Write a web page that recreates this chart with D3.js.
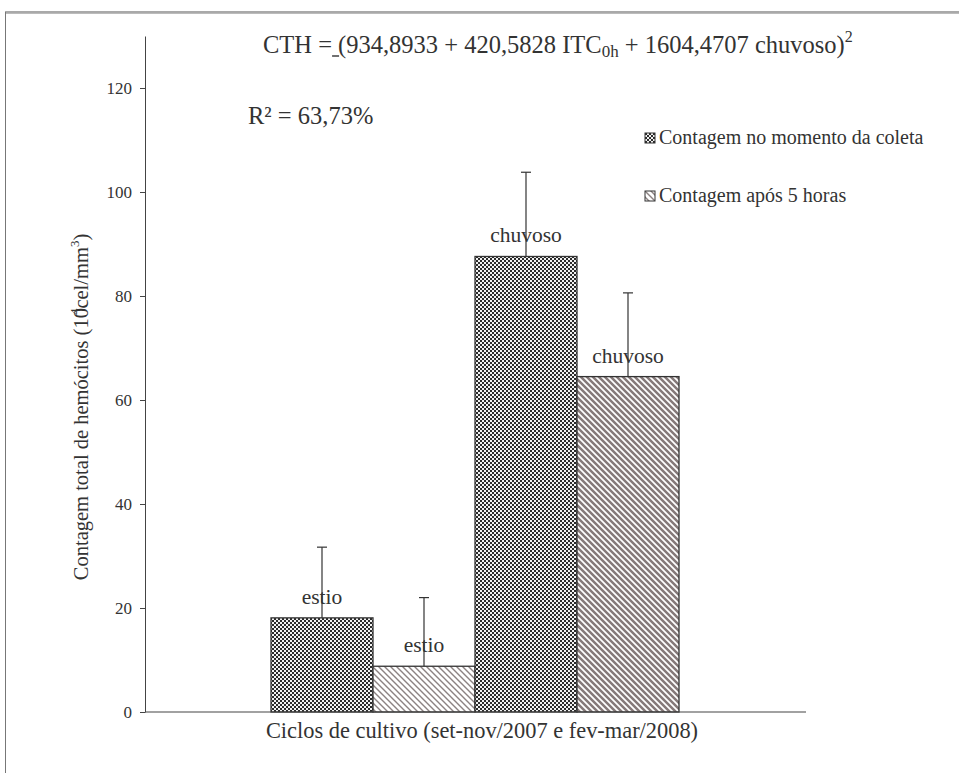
<!DOCTYPE html>
<html lang="pt">
<head>
<meta charset="UTF-8">
<title>Contagem total de hemócitos</title>
<script src="https://d3js.org/d3.v7.min.js"></script>
<style>
    body { margin: 0; background: #fff; }
    svg text { font-family: "Liberation Serif", "Times New Roman", serif; fill: #333; }
</style>
</head>
<body>
<div id="chart"></div>
<script>
// data
const bars = ["b1", "b2", "b3", "b4"];
const barLabels = ["estio", "estio", "chuvoso", "chuvoso"];
const barSeries = [0, 1, 0, 1];
const values = [18.1, 8.8, 87.6, 64.5];
const errors = [13.6, 13.2, 16.2, 16.1];
const seriesNames = ["Contagem no momento da coleta", "Contagem após 5 horas"];
const yTicks = [0, 20, 40, 60, 80, 100, 120];

const W = 959, H = 773;

const svg = d3.select("#chart").append("svg")
    .attr("width", W).attr("height", H);

const defs = svg.append("defs");

// checkerboard for series 1
const chk = defs.append("pattern").attr("id", "pat0")
    .attr("patternUnits", "userSpaceOnUse").attr("width", 4).attr("height", 4);
chk.append("rect").attr("width", 4).attr("height", 4).attr("fill", "#f2f2f2");
chk.append("rect").attr("width", 2).attr("height", 2).attr("fill", "#2b2b2b");
chk.append("rect").attr("x", 2).attr("y", 2).attr("width", 2).attr("height", 2).attr("fill", "#2b2b2b");

// diagonal hatch for series 2 (thin) and bar 4 (thicker)
function hatch(id, sw, col) {
    const p = defs.append("pattern").attr("id", id)
        .attr("patternUnits", "userSpaceOnUse").attr("width", 6).attr("height", 6);
    p.append("rect").attr("width", 6).attr("height", 6).attr("fill", "#fff");
    p.append("path").attr("d", "M0,0L6,6M-1,5L1,7M5,-1L7,1")
        .attr("stroke", col).attr("stroke-width", sw);
}
hatch("pat1", 1.4, "#8c8282");
hatch("pat1b", 2.5, "#857979");

const y = d3.scaleLinear().domain([0, 130]).range([712, 36]);
const x = d3.scaleBand().domain(bars).range([271, 679]).padding(0);

const xAxisLeft = 145, xAxisRight = 806;

// outer frame
svg.append("line").attr("x1", 5).attr("x2", W).attr("y1", 12).attr("y2", 12)
    .attr("stroke", "#555").attr("stroke-width", 1.2);
svg.append("line").attr("x1", 6).attr("x2", W).attr("y1", 13.5).attr("y2", 13.5)
    .attr("stroke", "#bbb").attr("stroke-width", 1);
svg.append("line").attr("x1", 5.5).attr("x2", 5.5).attr("y1", 12).attr("y2", H)
    .attr("stroke", "#777").attr("stroke-width", 1);

// y axis
const yAxis = svg.append("g")
    .attr("transform", `translate(${xAxisLeft},0)`)
    .call(d3.axisLeft(y).tickValues(yTicks).tickSize(5).tickPadding(8).tickSizeOuter(0));
yAxis.select(".domain").attr("stroke", "#444");
yAxis.selectAll(".tick line").attr("stroke", "#444");
yAxis.selectAll(".tick text")
    .style("font-family", "\"Liberation Serif\", serif")
    .attr("font-size", 17).attr("fill", "#333");

// bars
const barData = bars.map((b, i) => ({
    id: b, label: barLabels[i], s: barSeries[i], v: values[i], e: errors[i]
}));

svg.selectAll("rect.bar")
    .data(barData)
    .join("rect")
    .attr("class", "bar")
    .attr("x", d => x(d.id))
    .attr("y", d => y(d.v))
    .attr("width", x.bandwidth())
    .attr("height", d => y(0) - y(d.v))
    .attr("fill", (d, i) => d.s === 0 ? "url(#pat0)" : (i === 3 ? "url(#pat1b)" : "url(#pat1)"))
    .attr("stroke", "#333")
    .attr("stroke-width", 1.3);

// x axis line
svg.append("line")
    .attr("x1", xAxisLeft).attr("x2", xAxisRight)
    .attr("y1", y(0)).attr("y2", y(0))
    .attr("stroke", "#444").attr("stroke-width", 1.2);

// error bars
const eb = svg.selectAll("g.err").data(barData).join("g").attr("class", "err");
eb.append("line")
    .attr("x1", d => x(d.id) + x.bandwidth() / 2)
    .attr("x2", d => x(d.id) + x.bandwidth() / 2)
    .attr("y1", d => y(d.v))
    .attr("y2", d => y(d.v + d.e))
    .attr("stroke", "#333").attr("stroke-width", 1.2);
eb.append("line")
    .attr("x1", d => x(d.id) + x.bandwidth() / 2 - 5)
    .attr("x2", d => x(d.id) + x.bandwidth() / 2 + 5)
    .attr("y1", d => y(d.v + d.e))
    .attr("y2", d => y(d.v + d.e))
    .attr("stroke", "#333").attr("stroke-width", 1.2);

// bar labels
svg.selectAll("text.blab")
    .data(barData)
    .join("text")
    .attr("class", "blab")
    .attr("x", d => x(d.id) + x.bandwidth() / 2)
    .attr("y", d => y(d.v) - 14)
    .attr("text-anchor", "middle")
    .attr("font-size", 21.5)
    .text(d => d.label);

// equation
const eqX = 263, eqY = 53;
const eq = svg.append("text").attr("x", eqX).attr("y", eqY).attr("font-size", 24.5);
eq.append("tspan").text("CTH = (934,8933 + 420,5828 ITC");
eq.append("tspan").attr("font-size", 17).attr("dy", 4).text("0h");
eq.append("tspan").attr("dy", -4).text(" + 1604,4707 chuvoso)");
eq.append("tspan").attr("font-size", 16).attr("dy", -11).text("2");

// the little stray underscore just before "(" in the original
const before = eq.node().getSubStringLength(0, 6);
svg.append("line")
    .attr("x1", eqX + before - 6).attr("x2", eqX + before + 1)
    .attr("y1", eqY + 3).attr("y2", eqY + 3)
    .attr("stroke", "#333").attr("stroke-width", 1.4);

svg.append("text").attr("x", 248).attr("y", 124).attr("font-size", 24.5)
    .text("R² = 63,73%");

// legend
const leg = svg.selectAll("g.leg").data(seriesNames).join("g")
    .attr("class", "leg")
    .attr("transform", (d, i) => `translate(645,${133 + i * 58})`);
leg.append("rect")
    .attr("width", 10).attr("height", 10)
    .attr("fill", (d, i) => `url(#pat${i})`)
    .attr("stroke", "#333").attr("stroke-width", 1);
leg.append("text")
    .attr("x", 14).attr("y", 11)
    .attr("font-size", 20)
    .text(d => d);

// axis titles
svg.append("text")
    .attr("x", 482).attr("y", 738)
    .attr("text-anchor", "middle")
    .attr("font-size", 22.4)
    .text("Ciclos de cultivo (set-nov/2007 e fev-mar/2008)");

const yl = svg.append("text")
    .attr("transform", "translate(88,407) rotate(-90)")
    .attr("text-anchor", "middle")
    .attr("font-size", 20.5);
yl.append("tspan").text("Contagem total de hemócitos (10");
yl.append("tspan").attr("font-size", 13).attr("dy", -9).attr("dx", -7).text("4");
yl.append("tspan").attr("dy", 9).text("cel/mm");
yl.append("tspan").attr("font-size", 13).attr("dy", -9).text("3");
yl.append("tspan").attr("dy", 9).text(")");
</script>
</body>
</html>
